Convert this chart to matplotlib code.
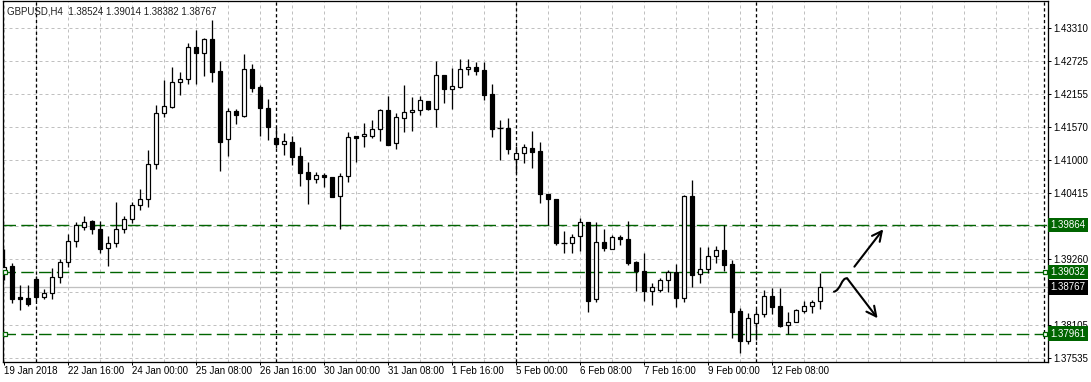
import numpy as np
import matplotlib
matplotlib.use('Agg')
import matplotlib.pyplot as plt
from matplotlib.patches import Rectangle, PathPatch
from matplotlib.path import Path

plt.rcParams['font.family'] = ['Liberation Sans', 'DejaVu Sans']

# GBPUSD H4 candles (bar 0 = 19 Jan 08:00)
opens = [1.39061, 1.39143, 1.38601, 1.38583, 1.38916, 1.38606, 1.38665, 1.38956, 1.39208, 1.39575,
         1.39831, 1.39925, 1.39785, 1.39463, 1.39540, 1.39785, 1.39960, 1.40205, 1.40310, 1.40923,
         1.41815, 1.41931, 1.42358, 1.42410, 1.42970, 1.42865, 1.43110, 1.42556, 1.41360, 1.41850,
         1.41773, 1.42585, 1.42270, 1.41908, 1.41383, 1.41273, 1.41313, 1.41068, 1.40788, 1.40671,
         1.40736, 1.40701, 1.40363, 1.40713, 1.41418, 1.41413, 1.41413, 1.41535, 1.41873, 1.41290,
         1.41738, 1.41833, 1.41868, 1.42031, 1.41885, 1.42480, 1.42246, 1.42281, 1.42585, 1.42620,
         1.42568, 1.42148, 1.41553, 1.41553, 1.41010, 1.41115, 1.41208, 1.41156, 1.40403, 1.40310,
         1.39551, 1.39540, 1.39663, 1.39908, 1.38560, 1.39558, 1.39435, 1.39645, 1.39610, 1.39208,
         1.39050, 1.38711, 1.38728, 1.38893, 1.39033, 1.38588, 1.40363, 1.38998, 1.39085, 1.39313,
         1.39418, 1.39173, 1.38350, 1.37836, 1.38140, 1.38298, 1.38613, 1.38443, 1.38105, 1.38158,
         1.38350, 1.38438, 1.38524]
highs = [1.39441, 1.39190, 1.38805, 1.38805, 1.38968, 1.38735, 1.39103, 1.39266, 1.39703, 1.39908,
         1.40018, 1.39948, 1.39925, 1.39668, 1.40263, 1.40018, 1.40263, 1.40485, 1.41173, 1.41961,
         1.42398, 1.42626, 1.42538, 1.43051, 1.43273, 1.43138, 1.43448, 1.42736, 1.41903, 1.41891,
         1.42853, 1.42673, 1.42311, 1.42066, 1.41567, 1.41476, 1.41423, 1.41226, 1.40963, 1.40783,
         1.40776, 1.40701, 1.40765, 1.41483, 1.41418, 1.41640, 1.41698, 1.41896, 1.42113, 1.41815,
         1.42305, 1.42095, 1.42118, 1.42031, 1.42725, 1.42480, 1.42603, 1.42760, 1.42760, 1.42713,
         1.42713, 1.42328, 1.41698, 1.41728, 1.41238, 1.41273, 1.41506, 1.41318, 1.40403, 1.40310,
         1.39756, 1.39703, 1.39978, 1.39918, 1.39908, 1.39785, 1.39686, 1.39680, 1.39931, 1.39236,
         1.39365, 1.38840, 1.38933, 1.39073, 1.39173, 1.40380, 1.40648, 1.39470, 1.39470, 1.39493,
         1.39861, 1.39248, 1.38403, 1.38315, 1.38396, 1.38723, 1.38753, 1.38763, 1.38333, 1.38385,
         1.38531, 1.38548, 1.39014]
lows = [1.38898, 1.38501, 1.38373, 1.38443, 1.38536, 1.38560, 1.38560, 1.38840, 1.39131, 1.39481,
        1.39773, 1.39703, 1.39376, 1.39148, 1.39481, 1.39726, 1.39901, 1.40123, 1.40181, 1.40835,
        1.41756, 1.41908, 1.42141, 1.42333, 1.42323, 1.42468, 1.42368, 1.40811, 1.41073, 1.41633,
        1.41745, 1.42193, 1.41418, 1.41348, 1.41199, 1.41086, 1.40911, 1.40543, 1.40233, 1.40590,
        1.40531, 1.40345, 1.39785, 1.40618, 1.40968, 1.41226, 1.41378, 1.41336, 1.41255, 1.41196,
        1.41493, 1.41500, 1.41786, 1.41873, 1.41581, 1.42001, 1.41896, 1.42263, 1.42486, 1.42486,
        1.42048, 1.41401, 1.40998, 1.41103, 1.40776, 1.40951, 1.40863, 1.40240, 1.39861, 1.39511,
        1.39365, 1.39376, 1.39411, 1.38343, 1.38518, 1.39400, 1.39435, 1.39505, 1.39166, 1.38711,
        1.38536, 1.38466, 1.38688, 1.38688, 1.38431, 1.38518, 1.38781, 1.38851, 1.39026, 1.39190,
        1.39061, 1.37888, 1.37626, 1.37773, 1.37848, 1.38256, 1.38303, 1.38070, 1.37953, 1.38158,
        1.38326, 1.38326, 1.38382]
closes = [1.39131, 1.38571, 1.38571, 1.38478, 1.38606, 1.38665, 1.38956, 1.39208, 1.39575, 1.39855,
          1.39918, 1.39785, 1.39446, 1.39540, 1.39785, 1.39960, 1.40205, 1.40310, 1.40928, 1.41815,
          1.41938, 1.42358, 1.42410, 1.42970, 1.42865, 1.43110, 1.42543, 1.41318, 1.41850, 1.41791,
          1.42585, 1.42263, 1.41903, 1.41570, 1.41269, 1.41325, 1.41056, 1.40776, 1.40671, 1.40736,
          1.40695, 1.40356, 1.40718, 1.41395, 1.41388, 1.41448, 1.41535, 1.41873, 1.41266, 1.41745,
          1.41833, 1.41873, 1.42043, 1.41885, 1.42480, 1.42246, 1.42288, 1.42585, 1.42620, 1.42561,
          1.42141, 1.41546, 1.41553, 1.41196, 1.41115, 1.41220, 1.41143, 1.40398, 1.40310, 1.39551,
          1.39551, 1.39645, 1.39908, 1.38536, 1.39558, 1.39463, 1.39645, 1.39610, 1.39201, 1.39050,
          1.38711, 1.38781, 1.38893, 1.39033, 1.38588, 1.40363, 1.38991, 1.39085, 1.39313, 1.39418,
          1.39166, 1.38343, 1.37836, 1.38228, 1.38298, 1.38613, 1.38431, 1.38098, 1.38158, 1.38368,
          1.38438, 1.38508, 1.38767]

price_ticks = [1.43310, 1.42725, 1.42155, 1.41570, 1.41000, 1.40415, 1.39845,
               1.39260, 1.38690, 1.38105, 1.37535]
hidden_ticks = [1.39845, 1.38690]   # covered by the level boxes
date_pos = [0, 8, 16, 24, 32, 40, 48, 56, 64, 72, 80, 88, 96]
date_labels = ['19 Jan 2018', '22 Jan 16:00', '24 Jan 00:00', '25 Jan 08:00', '26 Jan 16:00',
               '30 Jan 00:00', '31 Jan 08:00', '1 Feb 16:00', '5 Feb 00:00', '6 Feb 08:00',
               '7 Feb 16:00', '9 Feb 00:00', '12 Feb 08:00']
week_starts = [4, 34, 64, 94, 130]
levels = [1.39864, 1.39032, 1.37961]
last_price = 1.38767

GREEN = '#006400'
PX = 0.72  # one pixel in points

fig = plt.figure(figsize=(10.91, 3.82), dpi=100)
ax = fig.add_axes([3 / 1091, 20.3 / 382, 1045 / 1091, 360.7 / 382])
ax.set_xlim(-0.125, 130.5)
ax.set_ylim(1.37468, 1.43780)

# grid
for p in price_ticks:
    ax.axhline(p, color='#c0c0c0', lw=PX, ls=(0, (3, 3)), zorder=0)
for g in range(0, 131, 4):
    ax.axvline(g, color='#c0c0c0', lw=PX, ls=(0, (3, 3)), zorder=0)
for w in week_starts:
    ax.axvline(w, color='black', lw=PX * 1.3, ls=(0, (2.5, 2)), zorder=1)

# level lines
ax.axhline(last_price, color='#c0c0c0', lw=PX * 1.3, zorder=1)
for lv in levels:
    ax.axhline(lv, color=GREEN, lw=1.0, ls=(0, (9, 3.8)), zorder=1)
for lv in levels[1:]:
    ax.plot([0.12, 130.1], [lv, lv], ls='none', marker='s', ms=3.5,
            mfc='white', mec=GREEN, mew=0.9, zorder=5, clip_on=False)

# candles
bw = 0.5
for i, (o, h, l, c) in enumerate(zip(opens, highs, lows, closes)):
    ax.vlines(i, l, h, color='black', lw=PX * 1.3, zorder=3)
    if c > o:
        ax.add_patch(Rectangle((i - bw / 2, o), bw, c - o, fc='white', ec='black',
                               lw=PX * 1.2, zorder=4))
    elif c < o:
        ax.add_patch(Rectangle((i - bw / 2, c), bw, o - c, fc='black', ec='black',
                               lw=PX * 1.2, zorder=4))
    else:
        ax.hlines(o, i - bw / 2 - 0.1, i + bw / 2 + 0.1, color='black', lw=PX * 1.3, zorder=4)

# drawn arrows
head = '->,head_length=0.7,head_width=0.35'
ax.annotate('', xy=(109.9, 1.39785), xytext=(106.3, 1.39131),
            arrowprops=dict(arrowstyle=head, color='black', lw=1.5, shrinkA=0, shrinkB=0),
            zorder=6)
curl = Path([(103.75, 1.38693), (104.6, 1.38720), (104.7, 1.38950), (105.4, 1.38925)],
            [Path.MOVETO, Path.CURVE4, Path.CURVE4, Path.CURVE4])
ax.add_patch(PathPatch(curl, fill=False, ec='black', lw=1.5, capstyle='round', zorder=6))
ax.annotate('', xy=(109.2, 1.38228), xytext=(105.4, 1.38925),
            arrowprops=dict(arrowstyle=head, color='black', lw=1.5, shrinkA=0, shrinkB=0),
            zorder=6)

# axes styling
for s in ax.spines.values():
    s.set_color('black')
    s.set_linewidth(PX * 1.3)
ax.yaxis.tick_right()
ax.set_yticks(price_ticks)
ax.set_yticklabels(['' if p in hidden_ticks else '%.5f' % p for p in price_ticks])
ax.tick_params(axis='y', length=3 * PX, width=PX, pad=1.5, labelsize=7, colors='black')
ax.set_xticks(date_pos)
ax.set_xticklabels(date_labels, ha='left')
ax.tick_params(axis='x', length=3 * PX, width=PX, pad=1.0, labelsize=7, colors='black')

# price boxes on the right scale
yax = ax.get_yaxis_transform()
for lv in levels:
    ax.text(1.0025, lv, '%.5f' % lv, transform=yax, ha='left', va='center', fontsize=7,
            color='white', clip_on=False, zorder=10,
            bbox=dict(boxstyle='square,pad=0.22', fc=GREEN, ec='none'))
ax.text(1.0025, last_price, '%.5f' % last_price, transform=yax, ha='left', va='center',
        fontsize=7, color='white', clip_on=False, zorder=10,
        bbox=dict(boxstyle='square,pad=0.22', fc='black', ec='none'))

title = 'GBPUSD,H4  %.5f %.5f %.5f %.5f' % (opens[-1], highs[-1], lows[-1], closes[-1])
ax.text(0.0038, 0.972, title, transform=ax.transAxes, ha='left', va='center',
        fontsize=7, color='#202020', zorder=10)

fig.savefig('out.png', dpi=100)
